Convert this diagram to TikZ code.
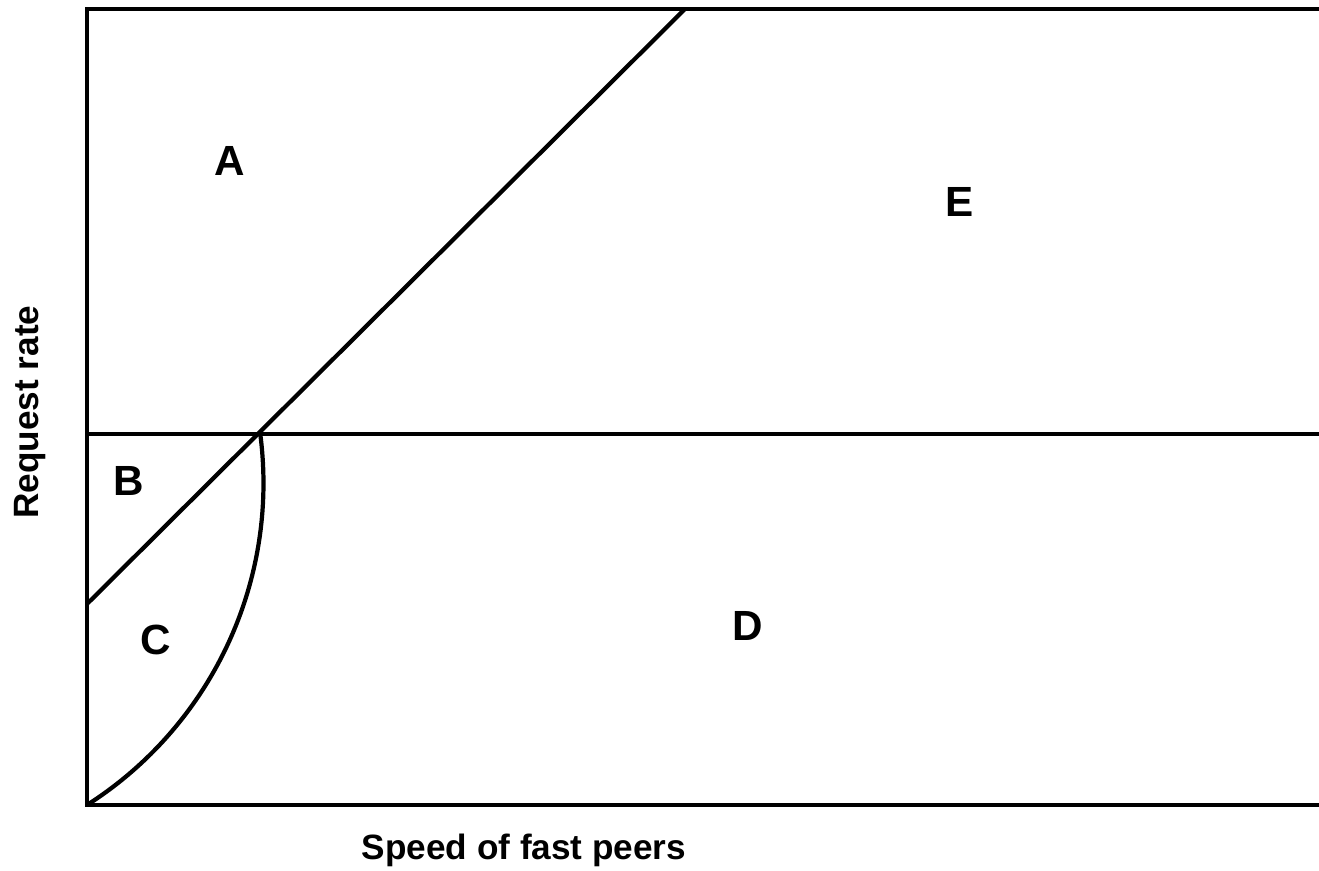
\documentclass[tikz,border=0pt]{standalone}
\usepackage{fontspec}
\setmainfont{Liberation Sans}
\begin{document}
\begin{tikzpicture}[x=0.01cm,y=-0.01cm,
  ln/.style={line width=1.2pt,line cap=butt,line join=miter},
  region/.style={font=\bfseries\fontsize{12}{14}\selectfont,inner sep=0pt},
  axislabel/.style={font=\bfseries\fontsize{10}{12}\selectfont,inner sep=0pt}]
\useasboundingbox (0,0) rectangle (1319,871);
% coordinates
\coordinate (tl) at (87,9);
\coordinate (tr) at (1330,9);
\coordinate (bl) at (87,805);
\coordinate (br) at (1330,805);
\coordinate (ml) at (87,434);
\coordinate (mr) at (1330,434);
\coordinate (dl) at (87,604);
\coordinate (x) at (260,434);
\coordinate (dt) at (685,9);
% frame
\draw[ln] (tr) -- (tl) -- (bl) -- (br);
\draw[ln] (ml) -- (mr);
\draw[ln] (dl) -- (dt);
\draw[ln] (bl) arc[start angle=-57.48, end angle=7.31, radius=3.814cm];
% labels
\node[region] (A) at (230,161) {A};
\node[region] (B) at (129,481) {B};
\node[region] (C) at (156,640) {C};
\node[region] (D) at (748,626) {D};
\node[region] (E) at (960,202) {E};
\node[axislabel] (xl) at (524,850) {Speed of fast peers};
\node[axislabel,rotate=90] (yl) at (30,412) {Request rate};
\end{tikzpicture}
\end{document}
